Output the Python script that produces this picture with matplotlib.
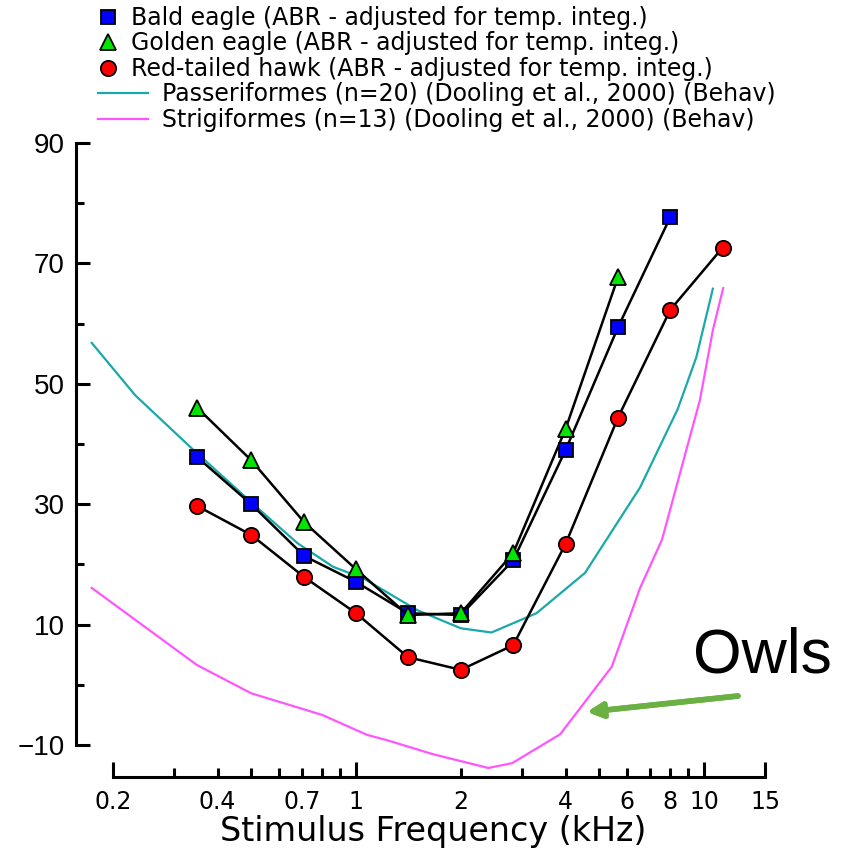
import matplotlib
matplotlib.use("Agg")
import matplotlib.pyplot as plt
import matplotlib.patheffects as pe
from matplotlib.lines import Line2D


# =========================
# DATA
# =========================

abr_freqs = [0.35, 0.5, 0.71, 1.0, 1.41, 2.0, 2.83, 4.0, 5.66, 8.0, 11.3]

bald_eagle = [37.8, 30.0, 21.4, 17.1, 11.9, 11.6, 20.7, 39.0, 59.4, 77.7]

golden_eagle = [46.0, 37.3, 27.0, 19.2, 11.6, 11.9, 21.9, 42.5, 67.7]

red_tailed_hawk = [29.7, 24.9, 17.9, 11.9, 4.6, 2.5, 6.6, 23.4, 44.4, 62.3, 72.6]

passer_freqs = [0.174, 0.232, 0.337, 0.53, 0.68, 0.86, 1.05, 1.5,
                2.0, 2.45, 3.3, 4.55, 6.55, 8.4, 9.5, 10.6]
passer_vals = [56.8, 48.1, 39.3, 29.0, 23.5, 19.6, 17.7, 12.4,
               9.4, 8.7, 11.9, 18.6, 32.8, 45.8, 54.4, 65.8]

strig_freqs = [0.174, 0.349, 0.5, 0.80, 1.075, 1.23, 1.66, 2.40, 2.81,
               3.86, 5.43, 6.55, 7.57, 8.94, 9.73, 10.6, 11.35]
strig_vals = [16.1, 3.3, -1.4, -5.0, -8.3, -9.2, -11.5, -13.8, -13.0,
              -8.2, 3.0, 16.1, 24.1, 39.5, 47.3, 58.9, 65.9]

legend_labels = [
    "Bald eagle (ABR - adjusted for temp. integ.)",
    "Golden eagle (ABR - adjusted for temp. integ.)",
    "Red-tailed hawk (ABR - adjusted for temp. integ.)",
    "Passeriformes (n=20) (Dooling et al., 2000) (Behav)",
    "Strigiformes (n=13) (Dooling et al., 2000) (Behav)",
]

x_major = [0.2, 1, 10, 15]
x_major_labels = ["0.2", "1", "10", "15"]
x_minor = [0.3, 0.4, 0.5, 0.6, 0.7, 0.8, 0.9, 2, 3, 4, 5, 6, 7, 8, 9]
x_minor_labels = ["", "0.4", "", "", "0.7", "", "", "2", "",
                  "4", "", "6", "", "8", ""]

y_major = [-10, 10, 30, 50, 70, 90]
y_minor = [0, 20, 40, 60, 80]


# =========================
# FIGURE
# =========================

W, H = 847, 855

fig = plt.figure(figsize=(W / 100, H / 100), dpi=100)

ax = fig.add_axes([76 / W, 78 / H, 714 / W, 634 / H])

ax.set_xscale("log")
ax.set_xlim(0.1568, 17.66)
ax.set_ylim(-15.3, 90)


# =========================
# CURVES (BEHAVIOURAL)
# =========================

ax.plot(passer_freqs, passer_vals,
        color="#1aa8a8", linewidth=1.6, zorder=2)

ax.plot(strig_freqs, strig_vals,
        color="#ff55ff", linewidth=1.6, zorder=2)


# =========================
# ABR SERIES
# =========================

ax.plot(abr_freqs[:len(bald_eagle)], bald_eagle,
        color="black", linewidth=1.8, marker="s", markersize=10,
        markerfacecolor="#0000ff", markeredgecolor="black",
        markeredgewidth=1.3, zorder=3)

ax.plot(abr_freqs[:len(golden_eagle)], golden_eagle,
        color="black", linewidth=1.8, marker="^", markersize=11,
        markerfacecolor="#00e600", markeredgecolor="black",
        markeredgewidth=1.3, zorder=4)

ax.plot(abr_freqs[:len(red_tailed_hawk)], red_tailed_hawk,
        color="black", linewidth=1.8, marker="o", markersize=11,
        markerfacecolor="#ff0000", markeredgecolor="black",
        markeredgewidth=1.3, zorder=5)


# =========================
# AXES STYLE
# =========================

for side in ["top", "right"]:
    ax.spines[side].set_visible(False)

ax.spines["left"].set_bounds(-10, 90)
ax.spines["bottom"].set_bounds(0.2, 15)
ax.spines["left"].set_linewidth(2.2)
ax.spines["bottom"].set_linewidth(2.2)

ax.set_yticks(y_major)
ax.set_yticks(y_minor, minor=True)
ax.set_yticklabels([str(v) if v >= 0 else "\u2212" + str(-v) for v in y_major],
                   fontsize=20, family="Liberation Sans")

ax.set_xticks(x_major, labels=x_major_labels)
ax.set_xticks(x_minor, labels=x_minor_labels, minor=True)
for lab in ax.get_xticklabels(which="both"):
    lab.set_fontsize(17)

ax.tick_params(axis="y", which="major", direction="in", length=10,
               width=2.2, pad=8)
ax.tick_params(axis="y", which="minor", direction="in", length=6,
               width=2.2)
ax.tick_params(axis="x", which="major", direction="in", length=11,
               width=2.2, pad=9)
ax.tick_params(axis="x", which="minor", direction="in", length=6.5,
               width=2.2, pad=9)

ax.set_xlabel("Stimulus Frequency (kHz)", fontsize=24, labelpad=1)


# =========================
# LEGEND (MANUAL)
# =========================

row_y = [17, 42, 68, 93, 119]

marker_styles = [("s", "#0000ff", 10), ("^", "#00e600", 11), ("o", "#ff0000", 11)]

for i in range(3):
    m, c, ms = marker_styles[i]
    fig.add_artist(Line2D([108 / W], [1 - row_y[i] / H], marker=m,
                          markersize=ms, markerfacecolor=c,
                          markeredgecolor="black", markeredgewidth=1.3,
                          linestyle="none", transform=fig.transFigure))
    fig.text(131 / W, 1 - (row_y[i] + 8) / H, legend_labels[i],
             fontsize=17, va="baseline", ha="left")

line_colors = ["#1aa8a8", "#ff55ff"]

for j in range(2):
    i = j + 3
    fig.add_artist(Line2D([98 / W, 148 / W], [1 - row_y[i] / H] * 2,
                          color=line_colors[j], linewidth=1.6,
                          transform=fig.transFigure))
    fig.text(162 / W, 1 - (row_y[i] + 8) / H, legend_labels[i],
             fontsize=17, va="baseline", ha="left")


# =========================
# OWLS NOTE + ARROW
# =========================

fig.text(693 / W, 1 - 672 / H, "Owls", fontsize=45,
         family="Liberation Sans", va="baseline", ha="left")

ax.annotate("", xy=(587, H - 712), xytext=(738, H - 696),
            xycoords="figure pixels", textcoords="figure pixels",
            arrowprops=dict(arrowstyle="-|>", color="#6ab043", lw=4,
                            mutation_scale=22, shrinkA=0, shrinkB=0,
                            path_effects=[pe.withSimplePatchShadow(
                                offset=(2, -2), alpha=0.25), pe.Normal()]))

fig.savefig("out.png", dpi=100)
